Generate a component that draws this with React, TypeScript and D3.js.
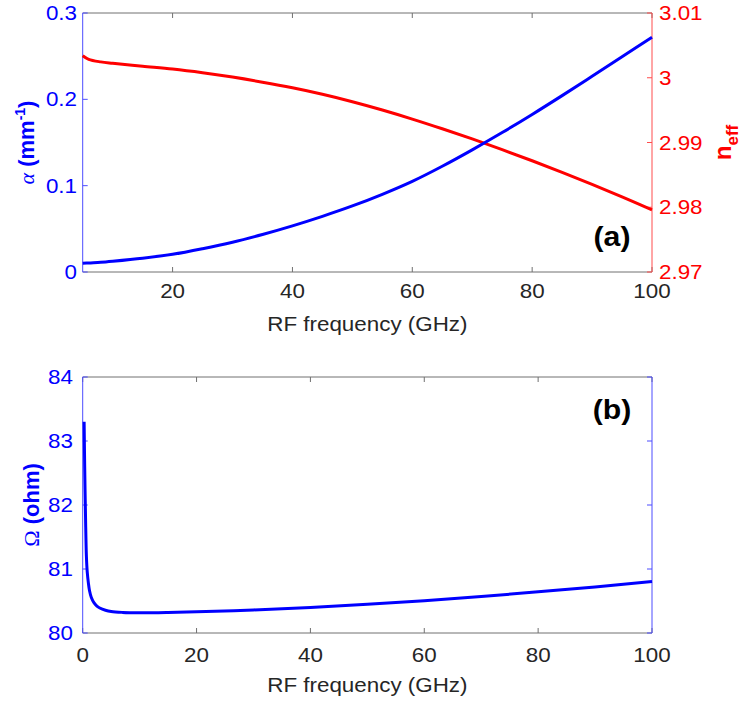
import * as d3 from 'd3';
import React from 'react';

// panel (a): attenuation and effective index vs RF frequency
const freqA = [5, 6, 8, 10, 15, 20, 25, 30, 35, 40, 45, 50, 55, 60, 65, 70, 75, 80, 85, 90, 95, 100];
const alpha = [0.010, 0.0105, 0.0113, 0.0125, 0.016, 0.0205, 0.027, 0.0345, 0.0435, 0.0535, 0.0645, 0.0765, 0.090,
  0.105, 0.1225, 0.1415, 0.1615, 0.1825, 0.2043, 0.2267, 0.2493, 0.272];
const neff = [3.0034, 3.00285, 3.00245, 3.00223, 3.00178, 3.00135, 3.00078, 3.0001, 2.99932, 2.99845, 2.99745, 2.9963,
  2.99502, 2.99362, 2.99212, 2.99055, 2.9889, 2.98718, 2.9854, 2.98353, 2.9816, 2.9796];

// panel (b): impedance vs RF frequency
const freqB = [0.25, 0.35, 0.5, 0.65, 0.8, 1.0, 1.2, 1.5, 2, 2.5, 3, 4, 5, 7, 10, 15, 20, 30, 40, 50, 60, 70, 80, 90, 100];
const ohm = [83.30, 82.6, 81.8, 81.2, 80.95, 80.78, 80.66, 80.56, 80.47, 80.42, 80.39, 80.355, 80.335, 80.322, 80.317,
  80.322, 80.332, 80.36, 80.40, 80.448, 80.505, 80.57, 80.643, 80.72, 80.805];

// tick labels
const xTicksA = [20, 40, 60, 80, 100];
const xTicksB = [0, 20, 40, 60, 80, 100];
const alphaTicks = [0, 0.1, 0.2, 0.3];
const neffTicks = [2.97, 2.98, 2.99, 3, 3.01];
const ohmTicks = [80, 81, 82, 83, 84];

const FONT = '"Liberation Sans", Arial, Helvetica, sans-serif';
const SX = 1.12; // source picture is slightly stretched horizontally
const BLUE = '#0000ff';
const RED = '#ff0000';
const AX_BLUE = '#4d4dff';
const AX_RED = '#ff4d4d';
const BOX = '#707070';
const TXT = '#262626';
const TL = 5;

const T = ({ x, y, anchor = 'middle', size = 20, fill = TXT, weight = 'normal', dy = '0', children }: any) => (
  <text transform={`translate(${x},${y}) scale(${SX},1)`} textAnchor={anchor} fontSize={size}
    fill={fill} fontWeight={weight} fontFamily={FONT} dy={dy}>{children}</text>
);

const App = () => {
  const left = 82.7, right = 652;

  const xA = d3.scaleLinear().domain([5, 100]).range([left, right]);
  const yAlpha = d3.scaleLinear().domain([0, 0.3]).range([272, 13]);
  const yN = d3.scaleLinear().domain([2.97, 3.01]).range([272, 13]);

  const xB = d3.scaleLinear().domain([0, 100]).range([left, right]);
  const yO = d3.scaleLinear().domain([80, 84]).range([633, 377]);

  const curve = d3.curveCatmullRom.alpha(0.5);
  const lineAlpha = d3.line<number>().x((_, i) => xA(freqA[i])).y(d => yAlpha(d)).curve(curve);
  const lineN = d3.line<number>().x((_, i) => xA(freqA[i])).y(d => yN(d)).curve(curve);
  const lineO = d3.line<number>().x((_, i) => xB(freqB[i])).y(d => yO(d)).curve(curve);

  const [topA, botA] = yAlpha.range().slice().reverse();
  const [topB, botB] = yO.range().slice().reverse();

  return (
    <svg width={746} height={705} style={{ position: 'absolute', left: 0, top: 0, background: '#fff' }}>
      {/* ---------- panel (a) ---------- */}
      <g>
        <line x1={left} x2={right} y1={13} y2={13} stroke={BOX} strokeWidth={1} />
        <line x1={left} x2={right} y1={272} y2={272} stroke={BOX} strokeWidth={1} />
        {xTicksA.map(t => (
          <g key={t}>
            <line x1={xA(t)} x2={xA(t)} y1={272} y2={272 - TL} stroke={BOX} />
            <line x1={xA(t)} x2={xA(t)} y1={13} y2={13 + TL} stroke={BOX} />
            <T x={xA(t)} y={298}>{t}</T>
          </g>
        ))}
        <line x1={left} x2={left} y1={13} y2={272} stroke={AX_BLUE} />
        {alphaTicks.map(t => (
          <g key={t}>
            <line x1={left} x2={left + TL} y1={yAlpha(t)} y2={yAlpha(t)} stroke={AX_BLUE} />
            <T x={77} y={yAlpha(t)} anchor="end" fill={BLUE} dy="0.35em">{t}</T>
          </g>
        ))}
        <line x1={right} x2={right} y1={13} y2={272} stroke={AX_RED} />
        {neffTicks.map(t => (
          <g key={t}>
            <line x1={right} x2={right - TL} y1={yN(t)} y2={yN(t)} stroke={AX_RED} />
            <T x={659} y={yN(t)} anchor="start" fill={RED} dy="0.35em">{t}</T>
          </g>
        ))}

        <path d={lineN(neff) || ''} fill="none" stroke={RED} strokeWidth={3} />
        <path d={lineAlpha(alpha) || ''} fill="none" stroke={BLUE} strokeWidth={3} />

        <T x={612} y={246} size={27} weight="bold" fill="#000">(a)</T>
        <T x={(left + right) / 2} y={331} size={20}>RF frequency (GHz)</T>

        <text transform={`translate(34,${(topA + botA) / 2}) rotate(-90)`} textAnchor="middle" fill={BLUE}
          fontFamily={FONT} fontSize={22} fontWeight="bold">
          <tspan fontFamily='"Liberation Serif", "DejaVu Serif", serif' fontWeight="normal" fontStyle="italic">α</tspan>
          <tspan> (mm</tspan>
          <tspan dy={-9} fontSize={14}>-1</tspan>
          <tspan dy={9}>)</tspan>
        </text>
        <text transform={`translate(731,${(topA + botA) / 2}) rotate(-90)`} textAnchor="middle" fill={RED}
          fontFamily={FONT} fontSize={24} fontWeight="bold">
          <tspan>n</tspan>
          <tspan dy={7} fontSize={17}>eff</tspan>
        </text>
      </g>

      {/* ---------- panel (b) ---------- */}
      <g>
        <line x1={left} x2={right} y1={377} y2={377} stroke={BOX} />
        <line x1={left} x2={right} y1={633} y2={633} stroke={BOX} />
        {xTicksB.map(t => (
          <g key={t}>
            <line x1={xB(t)} x2={xB(t)} y1={633} y2={633 - TL} stroke={BOX} />
            <line x1={xB(t)} x2={xB(t)} y1={377} y2={377 + TL} stroke={BOX} />
            <T x={xB(t)} y={662}>{t}</T>
          </g>
        ))}
        <line x1={left} x2={left} y1={377} y2={633} stroke={AX_BLUE} />
        <line x1={right} x2={right} y1={377} y2={633} stroke={AX_BLUE} />
        {ohmTicks.map(t => (
          <g key={t}>
            <line x1={left} x2={left + TL} y1={yO(t)} y2={yO(t)} stroke={AX_BLUE} />
            <line x1={right} x2={right - TL} y1={yO(t)} y2={yO(t)} stroke={AX_BLUE} />
            <T x={73} y={yO(t)} anchor="end" fill={BLUE} dy="0.35em">{t}</T>
          </g>
        ))}

        <path d={lineO(ohm) || ''} fill="none" stroke={BLUE} strokeWidth={3} />

        <T x={612} y={419} size={27} weight="bold" fill="#000">(b)</T>
        <T x={(left + right) / 2} y={692} size={20}>RF frequency (GHz)</T>

        <text transform={`translate(39,${(topB + botB) / 2}) rotate(-90)`} textAnchor="middle" fill={BLUE}
          fontFamily={FONT} fontSize={22} fontWeight="bold">
          <tspan fontFamily='"Liberation Serif", "DejaVu Serif", serif' fontWeight="normal">Ω</tspan>
          <tspan> (ohm)</tspan>
        </text>
      </g>
    </svg>
  );
};

export default App;
